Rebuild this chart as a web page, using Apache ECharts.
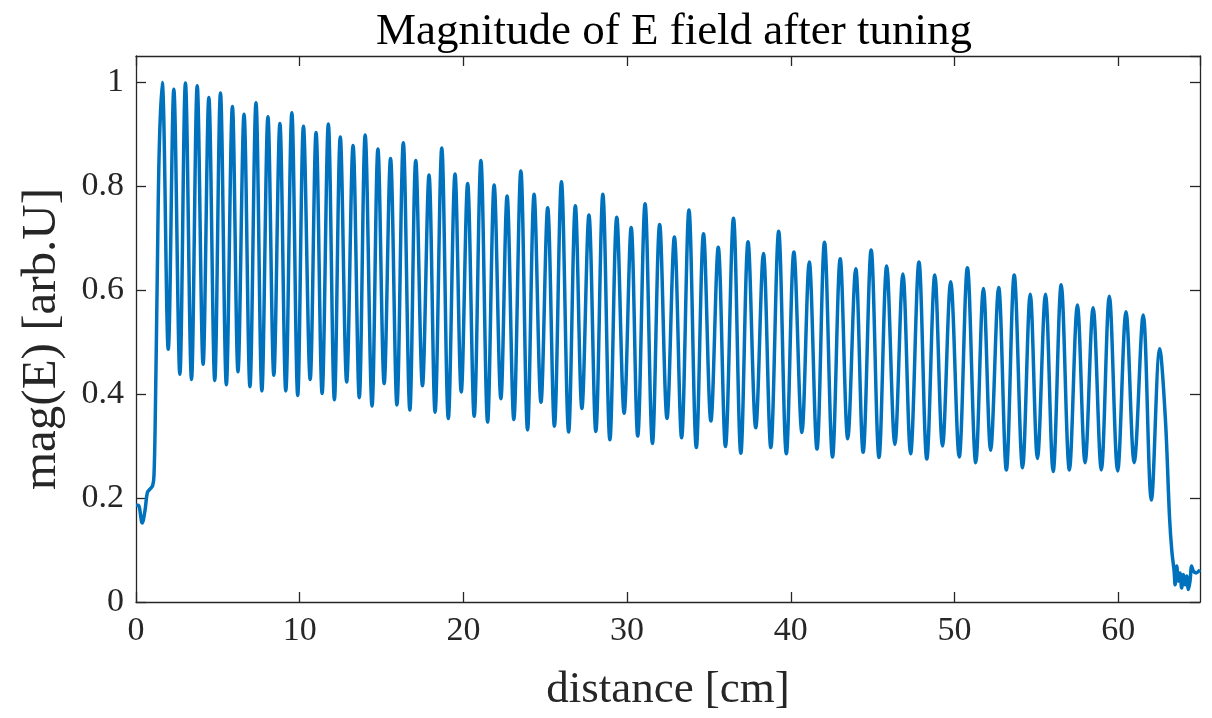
<!DOCTYPE html>
<html>
<head>
<meta charset="utf-8">
<script src="https://cdn.jsdelivr.net/npm/echarts@6/dist/echarts.min.js"></script>
<style>
html,body{margin:0;padding:0;background:#fff;}
#chart{width:1212px;height:718px;}
</style>
</head>
<body>
<div id="chart"></div>
<script>
// Leading section (before the first cell peak)
const startX = [0.00, 0.14, 0.38, 0.55, 0.69, 0.85, 1.02, 1.10, 1.18, 1.30, 1.42];
const startY = [0.186, 0.186, 0.152, 0.176, 0.210, 0.217, 0.224, 0.244, 0.36, 0.63, 0.87];

// Peaks of the field pattern
const peakX = [1.60, 2.31, 3.02, 3.74, 4.45, 5.16, 5.89, 6.60, 7.33, 8.06,
  8.79, 9.52, 10.23, 11.00, 11.75, 12.48, 13.26, 14.00, 14.78, 15.55,
  16.33, 17.09, 17.90, 18.68, 19.49, 20.26, 21.07, 21.88, 22.67, 23.51,
  24.32, 25.15, 25.99, 26.84, 27.67, 28.52, 29.37, 30.25, 31.10, 31.99,
  32.89, 33.78, 34.67, 35.57, 36.50, 37.39, 38.33, 39.26, 40.19, 41.13,
  42.06, 43.02, 43.97, 44.91, 45.86, 46.85, 47.83, 48.80, 49.77, 50.79,
  51.77, 52.70, 53.65, 54.63, 55.56, 56.52, 57.51, 58.47, 59.46, 60.48,
  61.53, 62.54];
const peakY = [0.999, 0.986, 0.998, 0.993, 0.970, 0.979, 0.953, 0.938, 0.960, 0.933,
  0.920, 0.941, 0.915, 0.903, 0.919, 0.894, 0.878, 0.898, 0.871, 0.853,
  0.883, 0.849, 0.821, 0.873, 0.823, 0.805, 0.849, 0.802, 0.781, 0.829,
  0.784, 0.758, 0.808, 0.762, 0.744, 0.784, 0.740, 0.720, 0.766, 0.726,
  0.702, 0.754, 0.708, 0.682, 0.738, 0.693, 0.670, 0.713, 0.673, 0.654,
  0.692, 0.660, 0.641, 0.677, 0.646, 0.631, 0.654, 0.629, 0.616, 0.643,
  0.603, 0.605, 0.629, 0.592, 0.592, 0.610, 0.571, 0.566, 0.588, 0.558,
  0.552, 0.487];

// Troughs between consecutive peaks
const troughX = [1.97, 2.68, 3.39, 4.10, 4.81, 5.52, 6.23, 6.96, 7.69, 8.42,
  9.15, 9.88, 10.64, 11.37, 12.12, 12.87, 13.64, 14.42, 15.16, 15.94,
  16.73, 17.50, 18.27, 19.08, 19.87, 20.66, 21.48, 22.29, 23.08, 23.92,
  24.74, 25.56, 26.43, 27.24, 28.09, 28.95, 29.82, 30.65, 31.55, 32.44,
  33.33, 34.23, 35.12, 36.01, 36.95, 37.86, 38.78, 39.73, 40.68, 41.60,
  42.55, 43.48, 44.42, 45.39, 46.36, 47.32, 48.31, 49.27, 50.29, 51.30,
  52.21, 53.17, 54.16, 55.07, 56.03, 57.02, 57.98, 58.97, 59.97, 60.98,
  62.03];
const troughY = [0.486, 0.438, 0.428, 0.457, 0.426, 0.418, 0.443, 0.414, 0.406, 0.436,
  0.406, 0.397, 0.428, 0.401, 0.389, 0.423, 0.393, 0.377, 0.420, 0.379,
  0.369, 0.416, 0.365, 0.353, 0.404, 0.357, 0.346, 0.391, 0.351, 0.331,
  0.384, 0.338, 0.327, 0.372, 0.328, 0.312, 0.363, 0.319, 0.305, 0.353,
  0.316, 0.297, 0.348, 0.299, 0.286, 0.335, 0.297, 0.285, 0.326, 0.294,
  0.279, 0.314, 0.288, 0.278, 0.303, 0.285, 0.275, 0.300, 0.279, 0.268,
  0.292, 0.254, 0.258, 0.276, 0.251, 0.254, 0.268, 0.254, 0.252, 0.268,
  0.196];

// Trailing section (after the last peak)
const tailX = [62.88, 63.14, 63.28, 63.42, 63.48, 63.58, 63.68, 63.78, 63.88, 63.99,
  64.09, 64.19, 64.29, 64.39, 64.49, 64.60, 64.76, 65.00];
const tailY = [0.355, 0.162, 0.098, 0.059, 0.033, 0.069, 0.040, 0.056, 0.027, 0.053,
  0.033, 0.050, 0.024, 0.040, 0.069, 0.059, 0.056, 0.062];

const xTicks = [0, 10, 20, 30, 40, 50, 60];
const yTicks = [0, 0.2, 0.4, 0.6, 0.8, 1];

// Assemble the curve in order along the distance axis
const curve = [];
startX.forEach((x, i) => curve.push([x, startY[i]]));
peakX.forEach((x, i) => {
  curve.push([x, peakY[i]]);
  if (i < troughX.length) curve.push([troughX[i], troughY[i]]);
});
tailX.forEach((x, i) => curve.push([x, tailY[i]]));

const FONT = '"Liberation Serif", "Times New Roman", serif';
const AX = '#262626';

const chart = echarts.init(document.getElementById('chart'), null, {renderer: 'canvas'});
chart.setOption({
  animation: false,
  backgroundColor: '#ffffff',
  title: {
    text: 'Magnitude of E field after tuning',
    left: 669, top: 5, textAlign: 'center',
    textStyle: {fontFamily: FONT, fontSize: 45, fontWeight: 'normal', color: '#000'}
  },
  grid: {left: 136, right: 12, top: 56, bottom: 113},
  xAxis: [{
    type: 'value', min: 0, max: 65, interval: 10,
    name: 'distance [cm]', nameLocation: 'middle', nameGap: 66,
    nameTextStyle: {fontFamily: FONT, fontSize: 45, color: AX},
    axisLine: {show: true, lineStyle: {color: AX, width: 1.3}},
    axisTick: {show: true, inside: true, length: 10, lineStyle: {color: AX, width: 1.3}},
    axisLabel: {fontFamily: FONT, fontSize: 34, color: AX, margin: 12, showMaxLabel: false,
      formatter: v => xTicks.includes(v) ? String(v) : ''},
    splitLine: {show: false}
  }, {
    type: 'value', min: 0, max: 65, interval: 10, position: 'top',
    axisLine: {show: true, onZero: false, lineStyle: {color: AX, width: 1.3}},
    axisTick: {show: true, inside: true, length: 10, lineStyle: {color: AX, width: 1.3}},
    axisLabel: {show: false}, splitLine: {show: false}
  }],
  yAxis: [{
    type: 'value', min: 0, max: 1.05, interval: 0.2,
    name: 'mag(E) [arb.U]', nameLocation: 'middle', nameGap: 69, nameRotate: 90,
    nameTextStyle: {fontFamily: FONT, fontSize: 49, color: AX, padding: [0, 20, 0, 0]},
    axisLine: {show: true, lineStyle: {color: AX, width: 1.3}},
    axisTick: {show: true, inside: true, length: 10, lineStyle: {color: AX, width: 1.3}},
    axisLabel: {fontFamily: FONT, fontSize: 34, color: AX, margin: 12, showMaxLabel: false,
      formatter: v => {
        const t = yTicks.find(k => Math.abs(k - v) < 1e-9);
        return t === undefined ? '' : String(t);
      }},
    splitLine: {show: false}
  }, {
    type: 'value', min: 0, max: 1.05, interval: 0.2, position: 'right',
    axisLine: {show: true, onZero: false, lineStyle: {color: AX, width: 1.3}},
    axisTick: {show: true, inside: true, length: 10, lineStyle: {color: AX, width: 1.3}},
    axisLabel: {show: false}, splitLine: {show: false}
  }],
  series: [{
    type: 'line',
    data: curve,
    xAxisIndex: 0, yAxisIndex: 0,
    showSymbol: false,
    smooth: 0.35,
    lineStyle: {color: '#0072BD', width: 3.5},
    clip: true
  }]
});
</script>
</body>
</html>
